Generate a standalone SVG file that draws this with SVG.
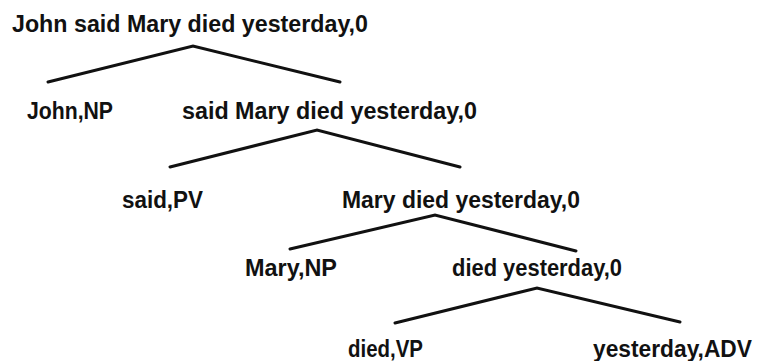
<svg xmlns="http://www.w3.org/2000/svg" width="772" height="361" viewBox="0 0 772 361">
  <style>
    .lbl { font-family: "Liberation Sans", Arial, sans-serif; font-weight: bold; font-size: 23px; fill: #111; }
    .edge { stroke: #111; stroke-width: 3; stroke-linecap: round; fill: none; }
  </style>
  <rect width="772" height="361" fill="#fff"/>

  <!-- tree edges: each parent joins its two children -->
  <g id="connectors">
    <polyline class="edge" points="48,82 193,46 340,82"/>
    <polyline class="edge" points="170,167 317,130 460,167"/>
    <polyline class="edge" points="290,249 435,215 576,251"/>
    <polyline class="edge" points="395,323 537,288 680,322"/>
  </g>

  <g id="n-root"><text class="lbl" x="12" y="32" textLength="356" lengthAdjust="spacingAndGlyphs">John said Mary died yesterday,0</text></g>
  <g id="n-john"><text class="lbl" x="27" y="119" textLength="86" lengthAdjust="spacingAndGlyphs">John,NP</text></g>
  <g id="n-said-s"><text class="lbl" x="182" y="119" textLength="295" lengthAdjust="spacingAndGlyphs">said Mary died yesterday,0</text></g>
  <g id="n-said"><text class="lbl" x="122" y="208" textLength="81" lengthAdjust="spacingAndGlyphs">said,PV</text></g>
  <g id="n-mary-s"><text class="lbl" x="342" y="208" textLength="238" lengthAdjust="spacingAndGlyphs">Mary died yesterday,0</text></g>
  <g id="n-mary"><text class="lbl" x="245" y="276" textLength="92" lengthAdjust="spacingAndGlyphs">Mary,NP</text></g>
  <g id="n-died-s"><text class="lbl" x="452" y="276" textLength="170" lengthAdjust="spacingAndGlyphs">died yesterday,0</text></g>
  <g id="n-died"><text class="lbl" x="348" y="357" textLength="75" lengthAdjust="spacingAndGlyphs">died,VP</text></g>
  <g id="n-yesterday"><text class="lbl" x="593" y="357" textLength="159" lengthAdjust="spacingAndGlyphs">yesterday,ADV</text></g>
</svg>
